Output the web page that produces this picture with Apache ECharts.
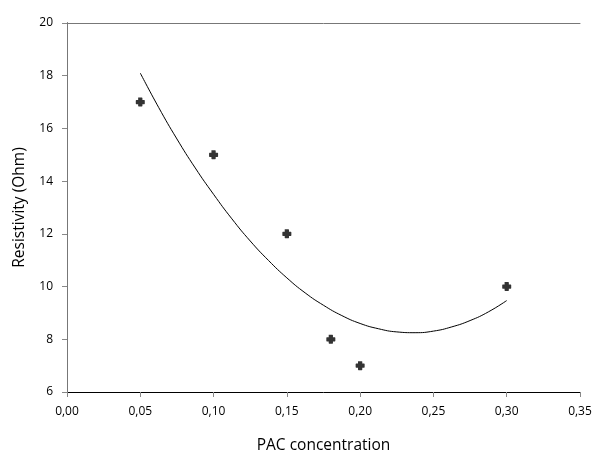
<!DOCTYPE html>
<html>
<head>
<meta charset="utf-8">
<script src="https://cdn.jsdelivr.net/npm/echarts@6/dist/echarts.min.js"></script>
<style>
  html, body { margin: 0; padding: 0; background: #fff; }
  #container { width: 600px; height: 473px; }
</style>
</head>
<body>
<div id="container"></div>
<script>
// measured points
var pacX = [0.05, 0.10, 0.15, 0.18, 0.20, 0.30];
var resistivity = [17, 15, 12, 8, 7, 10];

// fitted curve
var curveX = [0.05, 0.0625, 0.075, 0.0875, 0.10, 0.1125, 0.125, 0.1375, 0.15, 0.1625, 0.175,
              0.1875, 0.20, 0.2125, 0.225, 0.2375, 0.25, 0.2625, 0.275, 0.2875, 0.30];
var curveY = [18.1, 16.8, 15.6, 14.5, 13.5, 12.57, 11.73, 10.99, 10.33, 9.76, 9.29,
              8.9, 8.6, 8.4, 8.28, 8.25, 8.31, 8.47, 8.71, 9.04, 9.47];

var xTitle = 'PAC concentration';
var yTitle = 'Resistivity (Ohm)';

var dom = document.getElementById("container");
var myChart = echarts.init(dom);

var font = 'Open Sans';
var points = pacX.map(function (x, i) { return [x, resistivity[i]]; });
var curve = curveX.map(function (x, i) { return [x, curveY[i]]; });

// chunky plus marker
var plus = 'path://M2.5,0 L6.5,0 L7,0.5 L7,2.5 L9,2.5 L9.5,3 L9.5,6.5 L9,7 L7,7 L7,9 L6.5,9.5 L3,9.5 L2.5,9 L2.5,7 L0.5,7 L0,6.5 L0,3 L0.5,2.5 L2.5,2.5 L2.5,0.5 Z';

var option = {
    backgroundColor: '#fff',
    animation: false,
    grid: { left: 67, top: 23, right: 20, bottom: 81 },
    xAxis: [{
        type: 'value',
        min: 0, max: 0.35, interval: 0.05,
        name: xTitle,
        nameLocation: 'middle',
        nameGap: 46,
        nameTextStyle: { fontFamily: font, fontSize: 15.5, color: '#000' },
        axisLine: { show: true, lineStyle: { color: '#000', width: 1 } },
        axisTick: { show: true, inside: false, length: 5, lineStyle: { color: '#888' } },
        axisLabel: {
            margin: 14, color: '#000', fontFamily: font, fontSize: 12,
            formatter: function (v) { return v.toFixed(2).replace('.', ','); }
        },
        splitLine: { show: false }
    }, {
        type: 'value', position: 'top',
        min: 0, max: 0.35,
        axisLine: { show: true, lineStyle: { color: '#777' } },
        axisTick: { show: false }, axisLabel: { show: false }, splitLine: { show: false }
    }],
    yAxis: [{
        type: 'value',
        min: 6, max: 20, interval: 2,
        name: yTitle,
        nameLocation: 'middle',
        nameGap: 39,
        nameTextStyle: { fontFamily: font, fontSize: 15.5, color: '#000' },
        axisLine: { show: true, lineStyle: { color: '#000', width: 1 } },
        axisTick: { show: true, length: 5, lineStyle: { color: '#888' } },
        axisLabel: { margin: 14, color: '#000', fontFamily: font, fontSize: 12 },
        splitLine: { show: false }
    }, {
        type: 'value', position: 'right',
        min: 6, max: 20,
        axisLine: { show: true, lineStyle: { color: '#777' } },
        axisTick: { show: false }, axisLabel: { show: false }, splitLine: { show: false }
    }],
    series: [{
        type: 'line',
        data: curve,
        smooth: true,
        showSymbol: false,
        lineStyle: { color: '#000', width: 1 },
        z: 2
    }, {
        type: 'scatter',
        data: points,
        symbol: plus,
        symbolSize: 9,
        itemStyle: { color: '#000' },
        z: 3
    }]
};

myChart.setOption(option, true);
</script>
</body>
</html>
